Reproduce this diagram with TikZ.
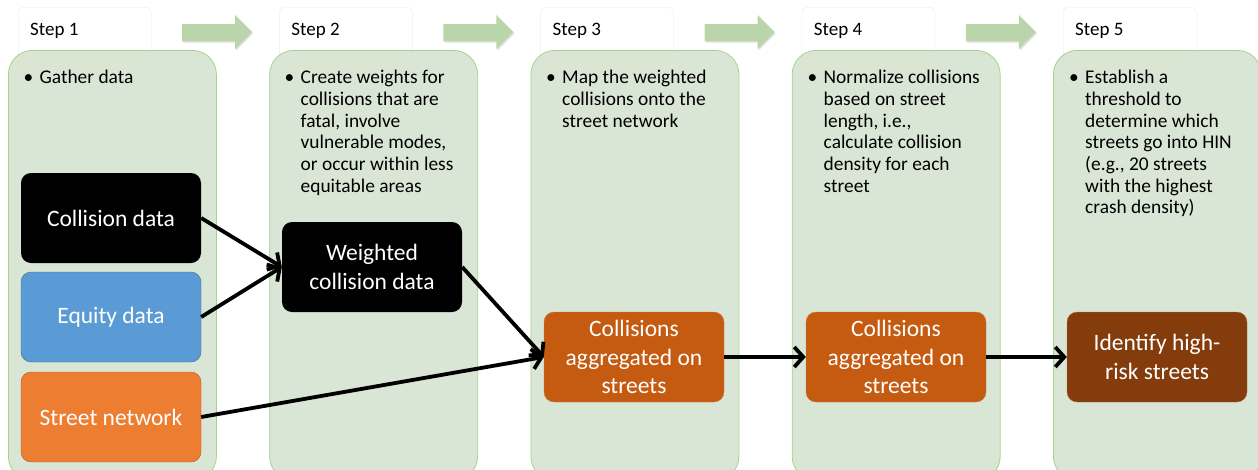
\documentclass[tikz,border=0pt]{standalone}
\usepackage{fontspec}
\setmainfont{Carlito}
\usepackage{tikz}
\usetikzlibrary{arrows.meta,shadows}
\definecolor{hinpanel}{RGB}{214,227,208}
\definecolor{hinpanelline}{RGB}{169,209,142}
\definecolor{hinarrow}{RGB}{186,213,170}
\definecolor{hinblue}{RGB}{91,155,213}
\definecolor{hinorange}{RGB}{237,125,49}
\definecolor{hinrust}{RGB}{197,90,17}
\definecolor{hinbrown}{RGB}{132,60,12}
\tikzstyle{panel} = [draw=hinpanelline, fill=hinpanel, fill opacity=0.9, line width=0.8pt, rounded corners=24pt, minimum width=208pt, minimum height=430pt, anchor=north west]
\tikzstyle{header} = [draw=black!8, fill=white, rounded corners=5pt, minimum width=133pt, minimum height=66pt, anchor=north west, drop shadow={opacity=0.15, shadow xshift=0pt, shadow yshift=-1.5pt}]
\tikzstyle{stepbox} = [rounded corners=10pt, minimum width=180pt, minimum height=90pt, text=white, align=center, font=\fontsize{23.5}{28.3}\selectfont]
\tikzstyle{note} = [anchor=north west, inner sep=0pt, align=left, font=\fontsize{19.4}{21.7}\selectfont]
\tikzstyle{flow} = [line width=3.8pt, -{Straight Barb[length=9pt,width=20pt]}]
\newcommand{\bul}{\leavevmode\llap{\textbullet\hspace{6.5pt}}}

\begin{document}
\begin{tikzpicture}[x=1pt, y=-1pt]
\useasboundingbox (0,0) rectangle (1258,469);
\clip (0,0) rectangle (1258,469);

% Step headers and panels
\foreach \i in {1,...,5} {
  \pgfmathsetmacro\px{8+261.25*(\i-1)}
  \node[header] (h\i) at (\px+10,7) {};
  \node[anchor=base west, inner sep=0pt, font=\fontsize{19}{23}\selectfont] (s\i) at (\px+22,35) {Step \i};
  \node[panel] (p\i) at (\px,50) {};
}

% Green arrows between headers
\foreach \i in {1,...,4} {
  \pgfmathsetmacro\ax{182+261.25*(\i-1)}
  \fill[hinarrow, drop shadow={opacity=0.25, shadow xshift=1pt, shadow yshift=-1.5pt}]
    (\ax,24) -- (\ax+53,24) -- (\ax+53,15) -- (\ax+70,32) -- (\ax+53,49) -- (\ax+53,41) -- (\ax,41) -- cycle;
}

% Step descriptions
\node[note] (t1) at (39.5,70) {\bul Gather data};
\node[note] (t2) at (300.5,70) {\bul Create weights for\\collisions that are\\fatal, involve\\vulnerable modes,\\or occur within less\\equitable areas};
\node[note] (t3) at (562,70) {\bul Map the weighted\\collisions onto the\\street network};
\node[note] (t4) at (823.5,70) {\bul Normalize collisions\\based on street\\length, i.e.,\\calculate collision\\density for each\\street};
\node[note] (t5) at (1085,70) {\bul Establish a\\threshold to\\determine which\\streets go into HIN\\(e.g., 20 streets\\with the highest\\crash density)};

% Data boxes
\node[stepbox, fill=black] (col) at (111,218) {Collision data};
\node[stepbox, fill=hinblue, draw=hinblue!70!black] (equ) at (111,317) {Equity data};
\node[stepbox, fill=hinorange, draw=hinorange!75!black] (str) at (111,417) {Street network};
\node[stepbox, fill=black] (wgt) at (372,267) {Weighted\\collision data};
\node[stepbox, fill=hinrust, draw=hinrust!80!white] (agg3) at (634,357) {Collisions\\aggregated on\\streets};
\node[stepbox, fill=hinrust, draw=hinrust!80!white] (agg4) at (896,357) {Collisions\\aggregated on\\streets};
\node[stepbox, fill=hinbrown, draw=hinbrown!70!white] (hin) at (1157,357) {Identify high-\\risk streets};

% Connectors
\draw[flow] (col.east) -- (wgt.west);
\draw[flow] (equ.east) -- (wgt.west);
\draw[flow] (wgt.east) -- (agg3.west);
\draw[flow] (str.east) -- (agg3.west);
\draw[flow] (agg3) -- (agg4);
\draw[flow] (agg4) -- (hin);
\end{tikzpicture}
\end{document}
